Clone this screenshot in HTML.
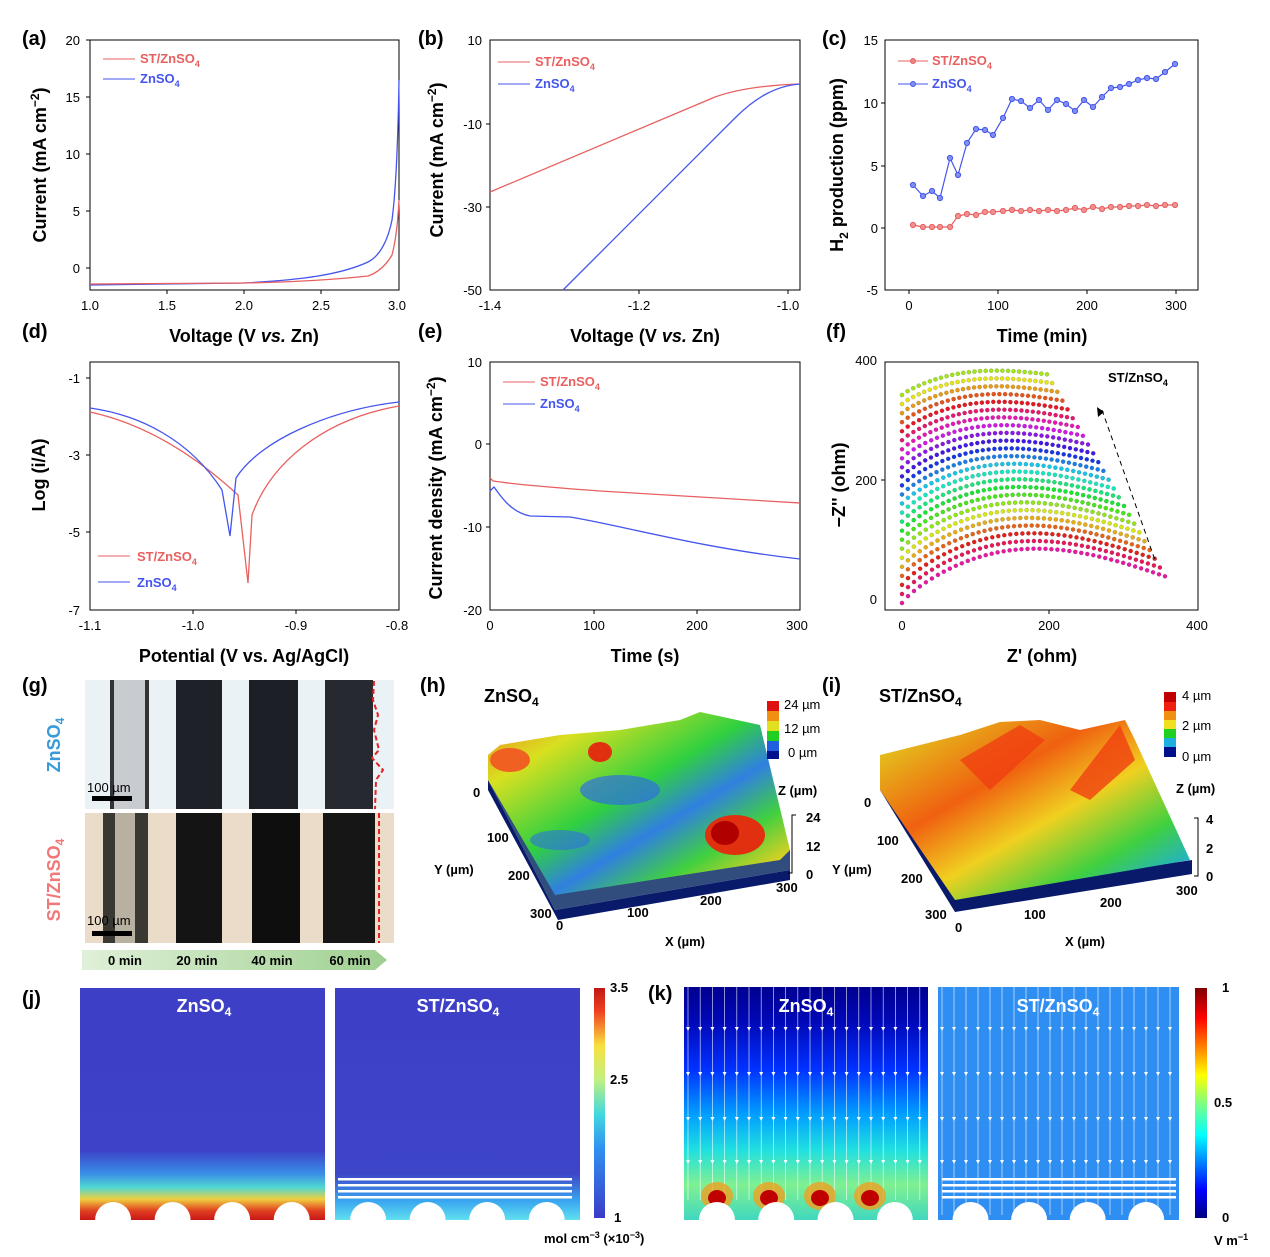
<!DOCTYPE html>
<html><head><meta charset="utf-8"><style>
body{margin:0;background:#fff}
svg{display:block;font-family:"Liberation Sans",Arial,sans-serif}
.t{font-size:13px}
.b{font-weight:bold}
.ax{fill:none;stroke:#000;stroke-width:1}
</style></head><body>
<svg id="s" width="1270" height="1257" viewBox="0 0 1270 1257" xmlns="http://www.w3.org/2000/svg">
<defs>
<linearGradient id="jet" x1="0" y1="1" x2="0" y2="0">
<stop offset="0" stop-color="#00007f"/><stop offset="0.12" stop-color="#0000ff"/><stop offset="0.36" stop-color="#00ffff"/><stop offset="0.5" stop-color="#7fff7f"/><stop offset="0.62" stop-color="#ffff00"/><stop offset="0.87" stop-color="#ff0000"/><stop offset="1" stop-color="#7f0000"/></linearGradient>
<linearGradient id="jcb" x1="0" y1="1" x2="0" y2="0">
<stop offset="0" stop-color="#3b3bc8"/><stop offset="0.3" stop-color="#3090f0"/><stop offset="0.45" stop-color="#40d8e0"/><stop offset="0.6" stop-color="#c0f080"/><stop offset="0.75" stop-color="#f8e040"/><stop offset="0.9" stop-color="#f04020"/><stop offset="1" stop-color="#c01818"/></linearGradient>
<linearGradient id="j1" x1="0" y1="0" x2="0" y2="1">
<stop offset="0" stop-color="#3d3fc6"/><stop offset="0.7" stop-color="#3d42c8"/><stop offset="0.8" stop-color="#3a8ee8"/><stop offset="0.86" stop-color="#50d8d0"/><stop offset="0.91" stop-color="#f0d040"/><stop offset="0.96" stop-color="#e04020"/><stop offset="1" stop-color="#c81818"/></linearGradient>
<linearGradient id="j2" x1="0" y1="0" x2="0" y2="1">
<stop offset="0" stop-color="#3d3fc6"/><stop offset="0.8" stop-color="#3d45c8"/><stop offset="0.92" stop-color="#3aa8f0"/><stop offset="1" stop-color="#60e0f0"/></linearGradient>
<linearGradient id="k1" x1="0" y1="0" x2="0" y2="1">
<stop offset="0" stop-color="#000090"/><stop offset="0.15" stop-color="#0008b8"/><stop offset="0.35" stop-color="#0030ff"/><stop offset="0.55" stop-color="#00a0ff"/><stop offset="0.7" stop-color="#20e0e0"/><stop offset="0.85" stop-color="#80f090"/><stop offset="1" stop-color="#40d8c0"/></linearGradient>
<linearGradient id="hs" x1="0" y1="0" x2="1" y2="1">
<stop offset="0" stop-color="#f08020"/><stop offset="0.2" stop-color="#d8e020"/><stop offset="0.45" stop-color="#30d040"/><stop offset="0.6" stop-color="#3080e0"/><stop offset="0.75" stop-color="#40d040"/><stop offset="0.9" stop-color="#e8d020"/><stop offset="1" stop-color="#30c040"/></linearGradient>
<linearGradient id="is" x1="0" y1="0" x2="1" y2="1">
<stop offset="0" stop-color="#e0e020"/><stop offset="0.35" stop-color="#f06010"/><stop offset="0.55" stop-color="#f0d020"/><stop offset="0.75" stop-color="#40d040"/><stop offset="0.9" stop-color="#20b0d0"/><stop offset="1" stop-color="#2040e0"/></linearGradient>
<linearGradient id="arr" x1="0" y1="0" x2="1" y2="0"><stop offset="0" stop-color="#dff0d8"/><stop offset="1" stop-color="#9fd090"/></linearGradient>
</defs>

<!-- (a) -->
<text x="22" y="45" font-size="20" class="b">(a)</text>
<rect x="90" y="40" width="309" height="250" class="ax"/>
<g class="t" text-anchor="end"><text x="80" y="45">20</text><text x="80" y="102">15</text><text x="80" y="159">10</text><text x="80" y="216">5</text><text x="80" y="273">0</text></g>
<g class="t" text-anchor="middle"><text x="90" y="310">1.0</text><text x="167" y="310">1.5</text><text x="244" y="310">2.0</text><text x="321" y="310">2.5</text><text x="397" y="310">3.0</text></g>
<path d="M90,268h-4M90,211h-4M90,154h-4M90,97h-4M90,40h-4M167,290v4M244,290v4M321,290v4" class="ax"/>
<path d="M90,285 L244,283 C300,280 340,275 368,262 C380,256 388,240 392,220 C396,190 398,140 399,80" fill="none" stroke="#4455ee" stroke-width="1.3"/>
<path d="M90,284 L244,283 C300,282 340,279 368,276 C380,272 388,262 392,255 C396,240 398,220 399,200" fill="none" stroke="#e86060" stroke-width="1.3"/>
<line x1="103" y1="59" x2="135" y2="59" stroke="#e86060"/><text x="140" y="63" class="t b" fill="#e86060">ST/ZnSO<tspan font-size="9" dy="4">4</tspan></text>
<line x1="103" y1="79" x2="135" y2="79" stroke="#4455ee"/><text x="140" y="83" class="t b" fill="#4455ee">ZnSO<tspan font-size="9" dy="4">4</tspan></text>
<text transform="translate(46,165) rotate(-90)" font-size="18" class="b" text-anchor="middle">Current (mA cm<tspan font-size="12" dy="-7">−2</tspan><tspan dy="7">)</tspan></text>
<text x="244" y="342" font-size="18" class="b" text-anchor="middle">Voltage (V <tspan font-style="italic">vs.</tspan> Zn)</text>

<!-- (b) -->
<text x="418" y="45" font-size="20" class="b">(b)</text>
<rect x="490" y="40" width="310" height="250" class="ax"/>
<g class="t" text-anchor="end"><text x="482" y="45">10</text><text x="482" y="129">-10</text><text x="482" y="212">-30</text><text x="482" y="295">-50</text></g>
<g class="t" text-anchor="middle"><text x="490" y="310">-1.4</text><text x="639" y="310">-1.2</text><text x="788" y="310">-1.0</text></g>
<path d="M490,124h-4M490,207h-4M639,290v4M788,290v4" class="ax"/>
<path d="M490,192 L715,97 C740,88 770,85 800,84" fill="none" stroke="#e86060" stroke-width="1.3"/>
<path d="M563,290 L735,118 C755,98 775,86 800,84" fill="none" stroke="#4455ee" stroke-width="1.3"/>
<line x1="498" y1="62" x2="530" y2="62" stroke="#e86060"/><text x="535" y="66" class="t b" fill="#e86060">ST/ZnSO<tspan font-size="9" dy="4">4</tspan></text>
<line x1="498" y1="84" x2="530" y2="84" stroke="#4455ee"/><text x="535" y="88" class="t b" fill="#4455ee">ZnSO<tspan font-size="9" dy="4">4</tspan></text>
<text transform="translate(443,160) rotate(-90)" font-size="18" class="b" text-anchor="middle">Current (mA cm<tspan font-size="12" dy="-7">−2</tspan><tspan dy="7">)</tspan></text>
<text x="645" y="342" font-size="18" class="b" text-anchor="middle">Voltage (V <tspan font-style="italic">vs.</tspan> Zn)</text>

<!-- (c) -->
<text x="822" y="45" font-size="20" class="b">(c)</text>
<rect x="885" y="40" width="313" height="250" class="ax"/>
<g class="t" text-anchor="end"><text x="878" y="45">15</text><text x="878" y="108">10</text><text x="878" y="171">5</text><text x="878" y="233">0</text><text x="878" y="295">-5</text></g>
<g class="t" text-anchor="middle"><text x="909" y="310">0</text><text x="998" y="310">100</text><text x="1087" y="310">200</text><text x="1176" y="310">300</text></g>
<path d="M885,103h-4M885,166h-4M885,228h-4M909,290v4M998,290v4M1087,290v4M1176,290v4" class="ax"/>
<g id="cpts"></g>
<line x1="898" y1="61" x2="928" y2="61" stroke="#e86060"/><circle cx="913" cy="61" r="2.5" fill="#f08080" stroke="#e86060"/><text x="932" y="65" class="t b" fill="#e86060">ST/ZnSO<tspan font-size="9" dy="4">4</tspan></text>
<line x1="898" y1="84" x2="928" y2="84" stroke="#4455ee"/><circle cx="913" cy="84" r="2.5" fill="#8090f0" stroke="#4455ee"/><text x="932" y="88" class="t b" fill="#4455ee">ZnSO<tspan font-size="9" dy="4">4</tspan></text>
<text transform="translate(843,165) rotate(-90)" font-size="18" class="b" text-anchor="middle">H<tspan font-size="12" dy="5">2</tspan><tspan dy="-5"> production (ppm)</tspan></text>
<text x="1042" y="342" font-size="18" class="b" text-anchor="middle">Time (min)</text>

<!-- (d) -->
<text x="22" y="338" font-size="20" class="b">(d)</text>
<rect x="90" y="362" width="309" height="248" class="ax"/>
<g class="t" text-anchor="end"><text x="80" y="383">-1</text><text x="80" y="460">-3</text><text x="80" y="537">-5</text><text x="80" y="615">-7</text></g>
<g class="t" text-anchor="middle"><text x="90" y="630">-1.1</text><text x="193" y="630">-1.0</text><text x="296" y="630">-0.9</text><text x="397" y="630">-0.8</text></g>
<path d="M90,378h-4M90,455h-4M90,532h-4M193,610v4M296,610v4" class="ax"/>
<path d="M90,412 C150,425 200,460 238,495 L248,583 L252,515 C270,465 320,420 399,406" fill="none" stroke="#e86060" stroke-width="1.3"/>
<path d="M90,408 C140,415 190,440 222,490 L230,536 L236,478 C260,440 330,410 399,402" fill="none" stroke="#4455ee" stroke-width="1.3"/>
<line x1="98" y1="556" x2="130" y2="556" stroke="#e86060"/><text x="137" y="561" class="t b" fill="#e86060">ST/ZnSO<tspan font-size="9" dy="4">4</tspan></text>
<line x1="98" y1="582" x2="130" y2="582" stroke="#4455ee"/><text x="137" y="587" class="t b" fill="#4455ee">ZnSO<tspan font-size="9" dy="4">4</tspan></text>
<text transform="translate(45,475) rotate(-90)" font-size="18" class="b" text-anchor="middle">Log (i/A)</text>
<text x="244" y="662" font-size="18" class="b" text-anchor="middle">Potential (V vs. Ag/AgCl)</text>

<!-- (e) -->
<text x="418" y="338" font-size="20" class="b">(e)</text>
<rect x="490" y="362" width="310" height="248" class="ax"/>
<g class="t" text-anchor="end"><text x="482" y="367">10</text><text x="482" y="449">0</text><text x="482" y="532">-10</text><text x="482" y="615">-20</text></g>
<g class="t" text-anchor="middle"><text x="490" y="630">0</text><text x="594" y="630">100</text><text x="697" y="630">200</text><text x="797" y="630">300</text></g>
<path d="M490,444h-4M490,527h-4M594,610v4M697,610v4" class="ax"/>
<path d="M490,478 L493,481 C520,485 560,488 600,491 C680,496 740,499 800,503" fill="none" stroke="#e86060" stroke-width="1.3"/>
<path d="M490,491 L494,487 C500,495 510,512 530,516 L570,517 C620,525 700,548 800,559" fill="none" stroke="#4455ee" stroke-width="1.3"/>
<line x1="503" y1="382" x2="535" y2="382" stroke="#e86060"/><text x="540" y="386" class="t b" fill="#e86060">ST/ZnSO<tspan font-size="9" dy="4">4</tspan></text>
<line x1="503" y1="404" x2="535" y2="404" stroke="#4455ee"/><text x="540" y="408" class="t b" fill="#4455ee">ZnSO<tspan font-size="9" dy="4">4</tspan></text>
<text transform="translate(442,488) rotate(-90)" font-size="18" class="b" text-anchor="middle">Current density (mA cm<tspan font-size="12" dy="-7">−2</tspan><tspan dy="7">)</tspan></text>
<text x="645" y="662" font-size="18" class="b" text-anchor="middle">Time (s)</text>

<!-- (f) -->
<text x="826" y="338" font-size="20" class="b">(f)</text>
<rect x="885" y="362" width="313" height="248" class="ax"/>
<g class="t" text-anchor="end"><text x="877" y="365">400</text><text x="877" y="485">200</text><text x="877" y="604">0</text></g>
<g class="t" text-anchor="middle"><text x="902" y="630">0</text><text x="1049" y="630">200</text><text x="1197" y="630">400</text></g>
<path d="M885,480h-4M1049,610v4" class="ax"/>
<g id="fpts"></g>
<line x1="1102" y1="410" x2="1155" y2="560" stroke="#000" stroke-dasharray="5,4"/>
<path d="M1097,407 l1,10 l6,-5z" fill="#000"/>
<text x="1108" y="382" class="t b" font-size="14">ST/ZnSO<tspan font-size="9" dy="4">4</tspan></text>
<text transform="translate(845,485) rotate(-90)" font-size="18" class="b" text-anchor="middle">−Z'' (ohm)</text>
<text x="1042" y="662" font-size="18" class="b" text-anchor="middle">Z' (ohm)</text>

<!-- (g) -->
<text x="22" y="692" font-size="20" class="b">(g)</text>
<rect x="85" y="680" width="309" height="129" fill="#eaf2f6"/>
<rect x="85" y="813" width="309" height="130" fill="#ebdcc9"/>
<rect x="110" y="680" width="39" height="129" fill="#c8ccd0"/><rect x="110" y="680" width="4" height="129" fill="#333"/><rect x="145" y="680" width="4" height="129" fill="#333"/>
<rect x="176" y="680" width="46" height="129" fill="#1e2228"/><rect x="249" y="680" width="49" height="129" fill="#1c2026"/><rect x="325" y="680" width="48" height="129" fill="#262a30"/>
<rect x="103" y="813" width="45" height="130" fill="#3a3832"/><rect x="115" y="813" width="20" height="130" fill="#b8b0a0"/>
<rect x="176" y="813" width="46" height="130" fill="#141414"/><rect x="252" y="813" width="48" height="130" fill="#0e0e0e"/><rect x="323" y="813" width="52" height="130" fill="#161616"/>
<path d="M374,681 L373,700 L378,715 L374,730 L379,750 L372,758 L383,770 L376,780 L375,809" fill="none" stroke="#e82020" stroke-width="2" stroke-dasharray="5,3"/>
<line x1="379" y1="813" x2="379" y2="943" stroke="#e82020" stroke-width="2" stroke-dasharray="5,3"/>
<rect x="92" y="796" width="40" height="5" fill="#000"/><text x="87" y="792" class="t">100 µm</text>
<rect x="92" y="931" width="40" height="5" fill="#000"/><text x="87" y="925" class="t">100 µm</text>
<path d="M82,950 H375 L387,960 L375,970 H82z" fill="url(#arr)"/>
<g class="t b" text-anchor="middle" font-size="14"><text x="125" y="965">0 min</text><text x="197" y="965">20 min</text><text x="272" y="965">40 min</text><text x="350" y="965">60 min</text></g>
<text transform="translate(60,745) rotate(-90)" font-size="18" class="b" text-anchor="middle" fill="#3a9ad8">ZnSO<tspan font-size="12" dy="4">4</tspan></text>
<text transform="translate(60,880) rotate(-90)" font-size="18" class="b" text-anchor="middle" fill="#f07878">ST/ZnSO<tspan font-size="12" dy="4">4</tspan></text>

<!-- (h) -->
<text x="420" y="692" font-size="20" class="b">(h)</text>
<text x="484" y="702" font-size="18" class="b">ZnSO<tspan font-size="12" dy="4">4</tspan></text>
<path d="M488,780 L555,910 L790,870 L790,880 L558,920 L488,790z" fill="#0a1a6a"/>
<path d="M488,780 L555,910 L790,870 L790,850 L555,888 L488,760z" fill="#1a3a70" opacity="0.9"/>
<path d="M488,755 L500,745 L560,735 L620,730 L680,720 L700,712 L760,725 L790,850 L780,860 L555,895 L488,780z" fill="url(#hs)"/>
<ellipse cx="735" cy="835" rx="30" ry="20" fill="#e03010"/><ellipse cx="725" cy="833" rx="14" ry="12" fill="#b00000"/>
<ellipse cx="510" cy="760" rx="20" ry="12" fill="#f06020"/><ellipse cx="600" cy="752" rx="12" ry="10" fill="#e03010"/>
<ellipse cx="620" cy="790" rx="40" ry="15" fill="#2f6fe0" opacity="0.7"/><ellipse cx="560" cy="840" rx="30" ry="10" fill="#2f6fe0" opacity="0.6"/>
<g class="t" font-size="12"><rect x="767" y="701" width="12" height="10" fill="#e01010"/><rect x="767" y="711" width="12" height="10" fill="#f09010"/><rect x="767" y="721" width="12" height="10" fill="#e0e020"/><rect x="767" y="731" width="12" height="10" fill="#20d020"/><rect x="767" y="741" width="12" height="10" fill="#2060e0"/><rect x="767" y="751" width="12" height="8" fill="#00108a"/>
<text x="784" y="709">24 µm</text><text x="784" y="733">12 µm</text><text x="788" y="757">0 µm</text></g>
<text x="778" y="795" class="t b" font-size="14">Z (µm)</text>
<path d="M796,815 h-4 v58 h-4" class="ax"/><g class="t b"><text x="806" y="822">24</text><text x="806" y="851">12</text><text x="806" y="879">0</text></g>
<g class="t b"><text x="473" y="797">0</text><text x="487" y="842">100</text><text x="508" y="880">200</text><text x="530" y="918">300</text><text x="556" y="930">0</text><text x="627" y="917">100</text><text x="700" y="905">200</text><text x="776" y="892">300</text><text x="434" y="874">Y (µm)</text><text x="665" y="946">X (µm)</text></g>

<!-- (i) -->
<text x="822" y="692" font-size="20" class="b">(i)</text>
<text x="879" y="702" font-size="18" class="b">ST/ZnSO<tspan font-size="12" dy="4">4</tspan></text>
<path d="M880,790 L955,912 L1192,874 L1192,860 L955,895 L880,775z" fill="#0a1a6a"/>
<path d="M880,755 L900,750 L960,735 L1000,722 L1040,720 L1080,730 L1125,720 L1135,740 L1190,860 L955,900 L880,790z" fill="url(#is)"/>
<path d="M960,760 L1020,725 L1045,740 L990,790z M1070,790 L1120,725 L1135,760 L1090,800z" fill="#f04010" opacity="0.8"/>
<g class="t" font-size="12"><rect x="1164" y="692" width="12" height="10" fill="#c00000"/><rect x="1164" y="702" width="12" height="9" fill="#f02010"/><rect x="1164" y="711" width="12" height="9" fill="#f09010"/><rect x="1164" y="720" width="12" height="9" fill="#f0e020"/><rect x="1164" y="729" width="12" height="9" fill="#20d020"/><rect x="1164" y="738" width="12" height="9" fill="#20b0e0"/><rect x="1164" y="747" width="12" height="10" fill="#00108a"/>
<text x="1182" y="700">4 µm</text><text x="1182" y="730">2 µm</text><text x="1182" y="761">0 µm</text></g>
<text x="1176" y="793" class="t b" font-size="14">Z (µm)</text>
<path d="M1194,818 h4 v58 h-4" class="ax"/><g class="t b"><text x="1206" y="824">4</text><text x="1206" y="853">2</text><text x="1206" y="881">0</text></g>
<g class="t b"><text x="864" y="807">0</text><text x="877" y="845">100</text><text x="901" y="883">200</text><text x="925" y="919">300</text><text x="955" y="932">0</text><text x="1024" y="919">100</text><text x="1100" y="907">200</text><text x="1176" y="895">300</text><text x="832" y="874">Y (µm)</text><text x="1065" y="946">X (µm)</text></g>

<!-- (j) -->
<text x="22" y="1005" font-size="20" class="b">(j)</text>
<rect x="80" y="988" width="245" height="232" fill="url(#j1)"/>
<rect x="335" y="988" width="245" height="232" fill="url(#j2)"/>
<g fill="#fff" id="semis"></g>
<g id="jl"></g>
<text x="204" y="1012" font-size="18" class="b" fill="#fff" text-anchor="middle">ZnSO<tspan font-size="12" dy="4">4</tspan></text>
<text x="458" y="1012" font-size="18" class="b" fill="#fff" text-anchor="middle">ST/ZnSO<tspan font-size="12" dy="4">4</tspan></text>
<rect x="594" y="988" width="11" height="230" fill="url(#jcb)"/>
<g class="t b"><text x="610" y="992">3.5</text><text x="610" y="1084">2.5</text><text x="614" y="1222">1</text></g>
<text x="544" y="1243" class="t b">mol cm<tspan font-size="9" dy="-5">−3</tspan><tspan dy="5"> (×10</tspan><tspan font-size="9" dy="-5">−3</tspan><tspan dy="5">)</tspan></text>

<!-- (k) -->
<text x="648" y="1000" font-size="20" class="b">(k)</text>
<rect x="684" y="987" width="244" height="233" fill="url(#k1)"/>
<rect x="938" y="987" width="241" height="233" fill="#2f8ef2"/>
<g id="kx"></g>
<text x="806" y="1012" font-size="18" class="b" fill="#fff" text-anchor="middle">ZnSO<tspan font-size="12" dy="4">4</tspan></text>
<text x="1058" y="1012" font-size="18" class="b" fill="#fff" text-anchor="middle">ST/ZnSO<tspan font-size="12" dy="4">4</tspan></text>
<rect x="1195" y="988" width="12" height="230" fill="url(#jet)"/>
<g class="t b"><text x="1222" y="992">1</text><text x="1214" y="1107">0.5</text><text x="1222" y="1222">0</text></g>
<text x="1214" y="1245" class="t b">V m<tspan font-size="9" dy="-5">−1</tspan></text>
</svg>
<script>
var NS="http://www.w3.org/2000/svg";
function el(p,t,a){var e=document.createElementNS(NS,t);for(var k in a)e.setAttribute(k,a[k]);p.appendChild(e);return e;}
// (c)
var g=document.getElementById('cpts');
var bx=[913,923,932,940,950,958,967,976,985,993,1003,1012,1021,1030,1039,1048,1057,1066,1075,1084,1093,1102,1111,1120,1129,1138,1147,1156,1165,1175];
var by=[185,196,191,198,158,175,143,129,130,135,118,99,101,108,100,110,100,104,111,100,107,97,88,87,84,80,78,79,72,64];
var ry=[225,227,227,227,227,216,214,215,212,212,211,210,211,210,211,210,211,210,208,210,207,209,207,207,206,206,205,206,205,205];
el(g,'polyline',{points:bx.map((x,i)=>x+','+by[i]).join(' '),fill:'none',stroke:'#4455ee','stroke-width':1.2});
el(g,'polyline',{points:bx.map((x,i)=>x+','+ry[i]).join(' '),fill:'none',stroke:'#e86060','stroke-width':1.2});
bx.forEach((x,i)=>{el(g,'circle',{cx:x,cy:by[i],r:2.6,fill:'#8090f0',stroke:'#4455ee'});el(g,'circle',{cx:x,cy:ry[i],r:2.6,fill:'#f09090',stroke:'#e86060'});});
// (f)
var f=document.getElementById('fpts');var N=24;
for(var k=0;k<N;k++){var t=k/(N-1);var y0=603-t*208;var xe=1165-t*118;var ye=588-t*210;var h=47-t*32;
 var hue=(320+t*480)%360;var col='hsl('+hue+',80%,50%)';var n=Math.round(44-t*18);
 for(var i=0;i<=n;i++){var u=i/n;var x=902+u*(xe-902);var yb=y0+u*(ye-y0);var y=yb-h*Math.sin(Math.PI*Math.pow(u,0.8)*0.92);
 el(f,'circle',{cx:x.toFixed(1),cy:y.toFixed(1),r:2.1,fill:col,stroke:'rgba(0,0,0,0.3)','stroke-width':0.4});}}
// semicircles
var s=document.getElementById('semis');
[[80,325],[335,580],[684,928],[938,1179]].forEach(function(r){var w=r[1]-r[0];for(var i=0;i<4;i++){var cx=r[0]+w*(0.135+i*0.243);el(s,'path',{d:'M'+(cx-18)+',1220 A18,18 0 0 1 '+(cx+18)+',1220z'});}});
var kx=document.getElementById('kx');
kx.parentNode.insertBefore(s,kx.nextSibling);
// (j) ST layers
var jl=document.getElementById('jl');
for(var i=0;i<4;i++)el(jl,'rect',{x:338,y:1178+i*6,width:234,height:2.5,fill:'#fff'});
// (k) streamlines
for(var i=0;i<20;i++){var x=688+i*12.2;el(kx,'line',{x1:x,y1:987,x2:x,y2:1200,stroke:'#fff','stroke-width':0.7,opacity:0.8});
 [1030,1075,1120,1163].forEach(y=>el(kx,'path',{d:'M'+(x-2)+','+(y-3)+'h4l-2,4z',fill:'#fff'}));}
for(var i=0;i<20;i++){var x=942+i*12;el(kx,'line',{x1:x,y1:987,x2:x,y2:1215,stroke:'#fff','stroke-width':0.7,opacity:0.8});
 [1030,1075,1120,1163].forEach(y=>el(kx,'path',{d:'M'+(x-2)+','+(y-3)+'h4l-2,4z',fill:'#fff'}));}
for(var i=0;i<4;i++)el(kx,'rect',{x:942,y:1178+i*6,width:234,height:2.5,fill:'#fff'});
[717,769,820,870].forEach(cx=>{el(kx,'ellipse',{cx:cx,cy:1196,rx:16,ry:14,fill:'#f0a020',opacity:0.8});el(kx,'ellipse',{cx:cx,cy:1198,rx:9,ry:8,fill:'#c00000'});});
</script>
</body></html>
